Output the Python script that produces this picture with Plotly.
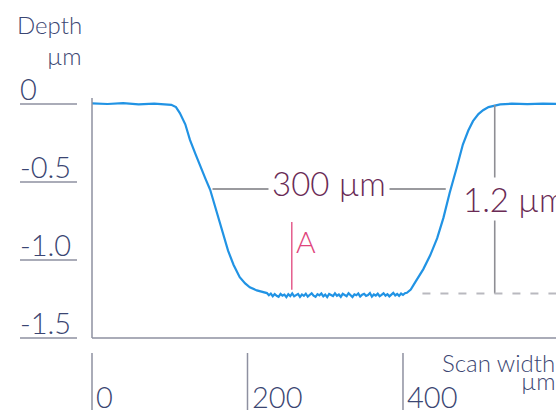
import plotly.graph_objects as go

# ---- data ----
left_x = [0, 20, 40, 60, 80, 95, 102, 108, 113, 120, 126, 133, 139, 146, 152, 158, 165, 170, 175, 182,
          190, 197, 203, 212, 220]
left_depth = [0.004, 0.0, 0.005, -0.002, 0.003, 0.0, -0.005, -0.02, -0.058, -0.13, -0.23, -0.32, -0.40, -0.48,
              -0.55, -0.65, -0.76, -0.85, -0.94, -1.03, -1.11, -1.15, -1.175, -1.195, -1.205]
floor_x = [225, 227.5, 230, 232.5, 235, 237.5, 240, 242.5, 245, 247.5, 250, 252.5, 255, 257.5, 260, 262.5,
           265, 267.5, 270, 272.5, 275, 277.5, 280, 282.5, 285, 287.5, 290, 292.5, 295, 297.5, 300, 302.5,
           305, 307.5, 310, 312.5, 315, 317.5, 320, 322.5, 325, 327.5, 330, 332.5, 335, 337.5, 340, 342.5,
           345, 347.5, 350, 352.5, 355, 357.5, 360, 362.5, 365, 367.5, 370, 372.5, 375, 377.5, 380, 382.5,
           385, 387.5, 390, 392.5, 395, 397.5, 400, 402.5]
floor_depth = [-1.212, -1.226, -1.215, -1.232, -1.218, -1.229, -1.236, -1.217, -1.228, -1.222, -1.238, -1.219,
               -1.231, -1.214, -1.233, -1.225, -1.218, -1.237, -1.221, -1.230, -1.216, -1.234, -1.224, -1.213,
               -1.229, -1.236, -1.219, -1.227, -1.215, -1.233, -1.222, -1.238, -1.218, -1.226, -1.231, -1.214,
               -1.229, -1.221, -1.236, -1.217, -1.225, -1.232, -1.213, -1.228, -1.237, -1.220, -1.226, -1.215,
               -1.234, -1.223, -1.217, -1.230, -1.225, -1.212, -1.235, -1.221, -1.228, -1.216, -1.232, -1.224,
               -1.214, -1.229, -1.219, -1.233, -1.222, -1.211, -1.227, -1.218, -1.230, -1.215, -1.224, -1.213]
right_x = [405, 410, 416, 421, 426, 435, 444, 452, 460, 469, 477, 484, 490, 497, 503, 510, 518, 525,
           540, 560, 580, 600]
right_depth = [-1.21, -1.19, -1.14, -1.10, -1.06, -0.97, -0.86, -0.73, -0.57, -0.41, -0.26, -0.17, -0.11,
               -0.065, -0.04, -0.02, -0.008, -0.002, 0.002, -0.001, 0.003, 0.0]

profile_x = left_x + floor_x + right_x
profile_depth = left_depth + floor_depth + right_depth

y_tick_values = [0, -0.5, -1.0, -1.5]
y_tick_labels = ["0", "-0.5", "-1.0", "-1.5"]
x_tick_values = [0, 200, 400]
x_tick_labels = ["0", "200", "400"]

width_start = 155      # µm
width_value = 300      # µm
width_depth = -0.545   # µm
step_x = 518           # µm
step_top = -0.006
step_bottom = -1.215
step_label = "1.2 µm"
width_label = "300 µm"
marker_x = 257
marker_top = -0.756
marker_bottom = -1.19
marker_label = "A"

# ---- figure ----
X_RANGE = [-118.33, 596.8]
Y_RANGE = [-2.0064, 0.6667]
PX_X = (X_RANGE[1] - X_RANGE[0]) / 556.0   # µm per pixel
PX_Y = (Y_RANGE[1] - Y_RANGE[0]) / 417.0   # depth per pixel

FONT = "Lato"
AXIS_COL = "#3b4672"
LINE_GREY = "#8e90a0"

fig = go.Figure()
fig.add_trace(go.Scatter(x=profile_x, y=profile_depth, mode="lines",
                         line=dict(color="#2193e4", width=2.2), hoverinfo="skip", showlegend=False))

shapes = []
ann = []

# frame
frame_top = 0.038
shapes.append(dict(type="line", xref="x", yref="y", x0=0, x1=0, y0=frame_top, y1=-1.5,
                   line=dict(color=LINE_GREY, width=1.5)))
shapes.append(dict(type="line", xref="x", yref="y", x0=0, x1=X_RANGE[1], y0=-1.5, y1=-1.5,
                   line=dict(color=LINE_GREY, width=1.5)))

# y ticks (underlined labels)
ul_x0 = X_RANGE[0] + 20 * PX_X
ul_x1 = X_RANGE[0] + 77 * PX_X
for v, t in zip(y_tick_values, y_tick_labels):
    shapes.append(dict(type="line", xref="x", yref="y", x0=ul_x0, x1=ul_x1, y0=v, y1=v,
                       line=dict(color=LINE_GREY, width=1.5)))
    ann.append(dict(x=ul_x0, y=v, xref="x", yref="y", text=t, showarrow=False,
                    xanchor="left", yanchor="bottom", yshift=-4, xshift=-2,
                    font=dict(family=FONT, size=29, color=AXIS_COL, weight=300)))

# x ticks (long marks, labels to the right)
xt_top = Y_RANGE[1] - 353 * PX_Y
xt_bot = Y_RANGE[1] - 410 * PX_Y
xt_lab = Y_RANGE[1] - 396 * PX_Y
for v, t in zip(x_tick_values, x_tick_labels):
    shapes.append(dict(type="line", xref="x", yref="y", x0=v, x1=v, y0=xt_top, y1=xt_bot,
                       line=dict(color=LINE_GREY, width=1.5)))
    ann.append(dict(x=v, y=xt_lab, xref="x", yref="y", text=t, showarrow=False,
                    xanchor="left", yanchor="middle", xshift=2,
                    font=dict(family=FONT, size=29, color=AXIS_COL, weight=300)))

# axis titles
ann.append(dict(x=X_RANGE[0] + 84 * PX_X, y=Y_RANGE[1] - 24 * PX_Y, xref="x", yref="y",
                text="Depth", showarrow=False, xanchor="right", yanchor="middle",
                font=dict(family=FONT, size=24, color=AXIS_COL, weight=300)))
ann.append(dict(x=X_RANGE[0] + 84 * PX_X, y=Y_RANGE[1] - 55 * PX_Y, xref="x", yref="y",
                text="µm", showarrow=False, xanchor="right", yanchor="middle",
                font=dict(family=FONT, size=24, color=AXIS_COL, weight=300)))
ann.append(dict(x=X_RANGE[0] + 440 * PX_X, y=Y_RANGE[1] - 362 * PX_Y, xref="x", yref="y",
                text="Scan width", showarrow=False, xanchor="left", yanchor="middle",
                font=dict(family=FONT, size=24, color=AXIS_COL, weight=300)))
ann.append(dict(x=X_RANGE[0] + 519 * PX_X, y=Y_RANGE[1] - 380 * PX_Y, xref="x", yref="y",
                text="µm", showarrow=False, xanchor="left", yanchor="middle",
                font=dict(family=FONT, size=24, color=AXIS_COL, weight=300)))

# width measurement
shapes.append(dict(type="line", xref="x", yref="y", x0=width_start, x1=width_start + width_value,
                   y0=width_depth, y1=width_depth, line=dict(color="#9a9a9e", width=2)))
ann.append(dict(x=width_start + width_value / 2, y=width_depth, xref="x", yref="y",
                text=width_label, showarrow=False, xanchor="center", yanchor="middle", yshift=6,
                bgcolor="white", borderpad=3,
                font=dict(family=FONT, size=33, color="#6a2b55", weight=300)))

# step height measurement
shapes.append(dict(type="line", xref="x", yref="y", x0=step_x, x1=step_x,
                   y0=step_top, y1=step_bottom, line=dict(color="#8e8e94", width=1.6)))
shapes.append(dict(type="line", xref="x", yref="y", x0=425, x1=X_RANGE[1],
                   y0=step_bottom, y1=step_bottom, line=dict(color="#b9b9bf", width=2, dash="8px,10px")))
ann.append(dict(x=X_RANGE[0] + 461 * PX_X, y=(step_top + step_bottom) / 2, xref="x", yref="y",
                text=step_label, showarrow=False, xanchor="left", yanchor="middle", yshift=0,
                bgcolor="white", borderpad=1,
                font=dict(family=FONT, size=33, color="#6a2b55", weight=300)))

# marker A
shapes.append(dict(type="line", xref="x", yref="y", x0=marker_x, x1=marker_x,
                   y0=marker_top, y1=marker_bottom, line=dict(color="#e0457c", width=1.3)))
ann.append(dict(x=marker_x, y=marker_top - 0.3 * (marker_top - marker_bottom) * 0.8, xref="x", yref="y",
                text=marker_label, showarrow=False, xanchor="left", yanchor="middle", xshift=2, yshift=-3,
                font=dict(family=FONT, size=30, color="#e0457c", weight=300)))

fig.update_layout(
    width=556, height=417, autosize=False,
    margin=dict(l=0, r=0, t=0, b=0),
    paper_bgcolor="white", plot_bgcolor="white",
    xaxis=dict(range=X_RANGE, visible=False, fixedrange=True),
    yaxis=dict(range=Y_RANGE, visible=False, fixedrange=True),
    shapes=shapes, annotations=ann, showlegend=False,
)

fig.write_html("out.html", config={"displayModeBar": False},
               post_script="document.body.style.margin='0';document.body.style.overflow='hidden';")
